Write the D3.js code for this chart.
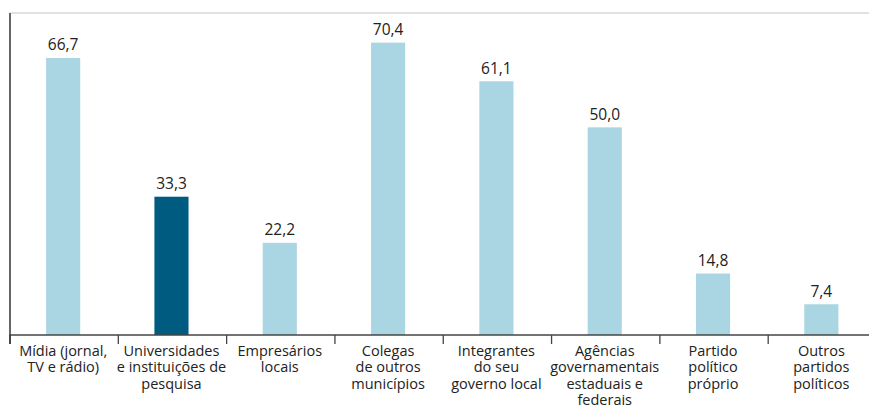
<!DOCTYPE html>
<html><head><meta charset="utf-8">
<script src="https://cdn.jsdelivr.net/npm/d3@7"></script>
<style>body{margin:0;background:#fff}svg{display:block}</style>
</head><body>
<script>
const categories = [
  ["Mídia (jornal,", "TV e rádio)"],
  ["Universidades", "e instituições de", "pesquisa"],
  ["Empresários", "locais"],
  ["Colegas", "de outros", "municípios"],
  ["Integrantes", "do seu", "governo local"],
  ["Agências", "governamentais", "estaduais e", "federais"],
  ["Partido", "político", "próprio"],
  ["Outros", "partidos", "políticos"]
];
const values = [66.7, 33.3, 22.2, 70.4, 61.1, 50.0, 14.8, 7.4];
const highlight = [false, true, false, false, false, false, false, false];
const keys = categories.map((c, i) => "c" + i);

const W = 869, H = 409;
const svg = d3.select("body").append("svg").attr("width", W).attr("height", H);
const font = "'Open Sans', 'Noto Sans', sans-serif";

const x = d3.scaleBand().domain(keys).range([10, 876.5]).padding(0);
const y = d3.scaleLinear().domain([0, 80]).range([335, 335 - 80 * 4.153]);
const barW = x.bandwidth() * 0.315;

// top frame line
svg.append("line").attr("x1", 10).attr("x2", W).attr("y1", 13).attr("y2", 13)
  .attr("stroke", "#d9d9d9").attr("stroke-width", 1.5);

// bars
svg.selectAll("rect.bar").data(values).join("rect")
  .attr("x", (d, i) => x(keys[i]) + x.bandwidth() / 2 - barW / 2 - 1)
  .attr("width", barW)
  .attr("y", d => y(d))
  .attr("height", d => y(0) - y(d))
  .attr("fill", (d, i) => highlight[i] ? "#005b80" : "#aad5e2");

// value labels
svg.selectAll("text.val").data(values).join("text")
  .attr("x", (d, i) => x(keys[i]) + x.bandwidth() / 2 - 1)
  .attr("y", d => y(d) - 7.5)
  .attr("text-anchor", "middle")
  .attr("font-family", font).attr("font-size", 15.5).attr("fill", "#222")
  .text(d => d.toFixed(1).replace(".", ","));

// x axis
const xAxis = d3.axisBottom(x).tickSize(0).tickFormat("");
const gx = svg.append("g").attr("transform", "translate(0,335)").call(xAxis);
gx.select(".domain").attr("stroke", "#444").attr("stroke-width", 1.5)
  .attr("d", `M10,0H${W}`);
// boundary ticks
const bounds = keys.map(k => x(k));
gx.selectAll("line.bt").data(bounds).join("line")
  .attr("x1", d => d).attr("x2", d => d).attr("y1", 0).attr("y2", 9)
  .attr("stroke", "#444").attr("stroke-width", 1.3);

// left axis line
svg.append("line").attr("x1", 10).attr("x2", 10).attr("y1", 13).attr("y2", 344)
  .attr("stroke", "#333").attr("stroke-width", 1.5);

// category labels
categories.forEach((lines, i) => {
  const t = svg.append("text")
    .attr("text-anchor", "middle")
    .attr("font-family", font).attr("font-size", 14.5).attr("fill", "#222");
  lines.forEach((ln, j) => {
    t.append("tspan").attr("x", x(keys[i]) + x.bandwidth() / 2 - 1)
      .attr("y", 355.5 + j * 16.6).text(ln);
  });
});
</script>
</body></html>
